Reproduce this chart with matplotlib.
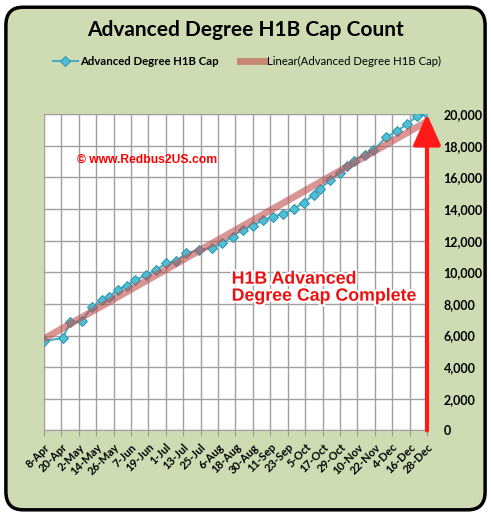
import matplotlib.pyplot as plt
import matplotlib.dates as mdates
import matplotlib.patheffects as pe
from matplotlib.patches import FancyBboxPatch
import numpy as np
import pandas as pd

plt.rcParams['font.family'] = ['Lato', 'DejaVu Sans']

# data
dates = ["2010-04-08", "2010-04-21", "2010-04-26", "2010-05-04", "2010-05-11",
         "2010-05-18", "2010-05-23", "2010-05-29", "2010-06-04", "2010-06-10",
         "2010-06-17", "2010-06-24", "2010-07-01", "2010-07-08", "2010-07-15",
         "2010-07-24", "2010-08-02", "2010-08-09", "2010-08-16", "2010-08-23",
         "2010-08-30", "2010-09-06", "2010-09-13", "2010-09-20", "2010-09-27",
         "2010-10-04", "2010-10-11", "2010-10-15", "2010-10-22", "2010-10-29",
         "2010-11-03", "2010-11-08", "2010-11-15", "2010-11-21", "2010-11-30",
         "2010-12-07", "2010-12-14", "2010-12-21", "2010-12-28"]
counts = [5650, 5850, 6850, 6900, 7800, 8250, 8450, 8900, 9150, 9500,
          9800, 10130, 10560, 10700, 11200, 11400, 11550, 11850, 12250, 12700,
          12950, 13300, 13500, 13700, 14000, 14400, 14900, 15250, 15800, 16300,
          16700, 17050, 17400, 17700, 18550, 18900, 19350, 19850, 20000]
yticks = list(range(0, 20001, 2000))

d = pd.to_datetime(dates)
xn = mdates.date2num(d)
fit = np.polyfit(xn - xn[0], counts, 1)
trend = np.polyval(fit, xn - xn[0])

fig = plt.figure(figsize=(4.91, 5.16), dpi=100)
fig.patch.set_facecolor("white")

# green chart area with rounded black border
bg = FancyBboxPatch((0.012, 0.012), 0.976, 0.974, boxstyle="round,pad=0,rounding_size=0.035",
                    transform=fig.transFigure, facecolor="#cfdcb3", edgecolor="black",
                    linewidth=2.5, zorder=-10)
fig.patches.append(bg)

ax = fig.add_axes([0.0896, 0.1657, 0.78, 0.6133])
ax.set_facecolor("white")

ax.plot(d, counts, color="#4bacc6", lw=1.5, marker="D", markersize=5.5,
        markerfacecolor="#4bc0d6", markeredgecolor="#2a8fa8", markeredgewidth=0.7,
        label="Advanced Degree H1B Cap", zorder=3)
ax.plot(d, trend, color="#c0504d", lw=5, alpha=0.6,
        label="Linear(Advanced Degree H1B Cap)", zorder=4)

start = pd.Timestamp("2010-04-08")
end = pd.Timestamp("2010-12-28")
xt = pd.date_range(start, end, freq="12D")
ax.set_xticks(xt)
ax.set_xticklabels([f"{t.day}-{t.strftime('%b')}" for t in xt], rotation=45,
                   ha="right", rotation_mode="anchor", fontsize=8, fontweight="bold")
ax.set_xlim(start, end)
ax.set_ylim(0, 20000)
ax.set_yticks(yticks)
ax.set_yticklabels([f"{v:,}" for v in yticks], fontsize=9, fontweight="bold")
ax.yaxis.tick_right()
ax.tick_params(axis="y", length=0, pad=12)
ax.tick_params(axis="x", length=4, color="#999999", pad=4)
ax.grid(True, color="#a0a0a0", lw=1)
ax.set_axisbelow(True)
for s in ax.spines.values():
    s.set_color("#a0a0a0")

# red arrow to the end
ax.annotate("", xy=(end, 20000), xytext=(end, 0),
            arrowprops=dict(arrowstyle="-|>,head_length=1.9,head_width=0.85",
                            color="#ff1a1a", lw=3, shrinkA=0, shrinkB=0), zorder=5,
            annotation_clip=False)

ax.text(0.085, 0.845, "\u00a9 www.Redbus2US.com", transform=ax.transAxes, color="red",
        fontsize=8.7, fontweight="bold", family="Liberation Sans")
ax.text(0.49, 0.505, "H1B Advanced\nDegree Cap Complete", transform=ax.transAxes,
        color="#ee1111", fontsize=12.8, fontweight="bold", family="Liberation Sans",
        linespacing=1.0, va="top",
        path_effects=[pe.withStroke(linewidth=3, foreground="white")], zorder=6)

fig.text(0.5, 0.942, "Advanced Degree H1B Cap Count", ha="center", va="center",
         fontsize=15, fontweight="bold")

leg = ax.legend(loc="center", bbox_to_anchor=(0.503, 0.88), bbox_transform=fig.transFigure,
                ncol=2, frameon=False, fontsize=8.2, handlelength=2.2, columnspacing=1.9,
                handletextpad=0.2)
leg.get_texts()[0].set_fontweight("bold")

fig.savefig("out.png", dpi=100)
